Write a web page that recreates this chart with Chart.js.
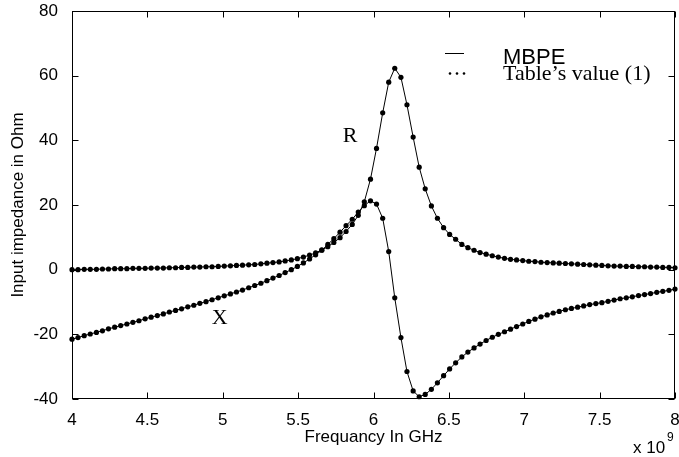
<!DOCTYPE html>
<html>
<head>
<meta charset="utf-8">
<script src="https://cdn.jsdelivr.net/npm/chart.js@4.4.1/dist/chart.umd.min.js"></script>
<style>
  body { margin: 0; background: #fff; }
  canvas { display: block; }
</style>
</head>
<body>
<canvas id="chart" width="679" height="457"></canvas>
<script>
// frequency samples (x 10^9 Hz)
const freqGHz = [
  4.000, 4.040, 4.081, 4.121, 4.162, 4.202, 4.242, 4.283, 4.323, 4.364,
  4.404, 4.444, 4.485, 4.525, 4.566, 4.606, 4.646, 4.687, 4.727, 4.768,
  4.808, 4.848, 4.889, 4.929, 4.970, 5.010, 5.051, 5.091, 5.131, 5.172,
  5.212, 5.253, 5.293, 5.333, 5.374, 5.414, 5.455, 5.495, 5.535, 5.576,
  5.616, 5.657, 5.697, 5.737, 5.778, 5.818, 5.859, 5.899, 5.939, 5.980,
  6.020, 6.061, 6.101, 6.141, 6.182, 6.222, 6.263, 6.303, 6.343, 6.384,
  6.424, 6.465, 6.505, 6.545, 6.586, 6.626, 6.667, 6.707, 6.747, 6.788,
  6.828, 6.869, 6.909, 6.949, 6.990, 7.030, 7.071, 7.111, 7.152, 7.192,
  7.232, 7.273, 7.313, 7.354, 7.394, 7.434, 7.475, 7.515, 7.556, 7.596,
  7.636, 7.677, 7.717, 7.758, 7.798, 7.838, 7.879, 7.919, 7.960, 8.000
];

// R (real part), Ohm
const resistance = [
  0.0, 0.0, 0.1, 0.1, 0.1, 0.2, 0.2, 0.3, 0.3, 0.3,
  0.4, 0.4, 0.4, 0.5, 0.5, 0.5, 0.6, 0.6, 0.7, 0.7,
  0.8, 0.8, 0.9, 0.9, 1.0, 1.1, 1.2, 1.3, 1.4, 1.5,
  1.6, 1.8, 2.0, 2.2, 2.4, 2.7, 3.0, 3.4, 3.9, 4.5,
  5.2, 6.1, 7.1, 8.4, 9.9, 11.8, 14.0, 16.8, 21.0, 28.0,
  37.5, 48.5, 58.0, 62.3, 59.5, 51.0, 41.0, 31.7, 25.0, 19.7,
  15.9, 13.0, 10.9, 9.4, 7.8, 6.8, 6.0, 5.3, 4.8, 4.3,
  3.9, 3.5, 3.2, 3.0, 2.8, 2.6, 2.5, 2.3, 2.2, 2.1,
  2.0, 1.9, 1.8, 1.7, 1.6, 1.5, 1.4, 1.3, 1.2, 1.1,
  1.1, 1.0, 1.0, 0.9, 0.9, 0.8, 0.8, 0.7, 0.7, 0.6
];

// X (imaginary part), Ohm
const reactance = [
  -21.5, -21.0, -20.4, -19.9, -19.4, -18.9, -18.3, -17.8, -17.3, -16.8,
  -16.3, -15.8, -15.2, -14.7, -14.2, -13.7, -13.1, -12.6, -12.1, -11.5,
  -11.0, -10.4, -9.9, -9.3, -8.7, -8.1, -7.5, -6.9, -6.3, -5.6,
  -4.9, -4.2, -3.4, -2.6, -1.8, -0.9, 0.0, 1.0, 2.1, 3.3,
  4.6, 6.0, 7.8, 9.6, 11.6, 13.6, 15.6, 17.8, 19.8, 21.3,
  20.3, 15.9, 5.6, -8.7, -21.0, -31.5, -37.5, -39.3, -38.6, -37.0,
  -35.0, -32.8, -30.7, -28.8, -27.0, -25.5, -24.2, -23.0, -21.9, -20.9,
  -20.0, -19.2, -18.4, -17.6, -16.8, -16.0, -15.3, -14.6, -14.0, -13.4,
  -12.9, -12.4, -12.0, -11.6, -11.2, -10.8, -10.5, -10.2, -9.8, -9.4,
  -9.0, -8.7, -8.4, -8.0, -7.7, -7.4, -7.0, -6.7, -6.4, -6.0
];

const xTicks = [4, 4.5, 5, 5.5, 6, 6.5, 7, 7.5, 8];
const yTicks = [-40, -20, 0, 20, 40, 60, 80];

const sans = 'Liberation Sans, Arial, sans-serif';
const serif = 'Liberation Serif, Times New Roman, serif';

const toPoints = vals => freqGHz.map((f, i) => ({ x: f, y: vals[i] }));

// box, inward ticks, legend and labels (MATLAB look)
const decorations = {
  id: 'decorations',
  afterDraw(chart) {
    const { ctx, chartArea: a, scales: { x, y } } = chart;
    ctx.save();
    ctx.strokeStyle = '#000';
    ctx.lineWidth = 1;
    const L = Math.round(a.left) + 0.5, R = Math.round(a.right) - 0.5;
    const T = Math.round(a.top) + 0.5, B = Math.round(a.bottom) - 0.5;
    ctx.strokeRect(L, T, R - L, B - T);
    ctx.beginPath();
    x.ticks.forEach(t => {
      const px = Math.round(x.getPixelForValue(t.value)) + 0.5;
      ctx.moveTo(px, B); ctx.lineTo(px, B - 6);
      ctx.moveTo(px, T); ctx.lineTo(px, T + 6);
    });
    y.ticks.forEach(t => {
      const py = Math.round(y.getPixelForValue(t.value)) + 0.5;
      ctx.moveTo(L, py); ctx.lineTo(L + 6, py);
      ctx.moveTo(R, py); ctx.lineTo(R - 6, py);
    });
    ctx.stroke();

    // legend
    ctx.beginPath();
    ctx.moveTo(445, 53.5); ctx.lineTo(464, 53.5);
    ctx.stroke();
    ctx.fillStyle = '#000';
    [450, 457, 464].forEach(cx => {
      ctx.beginPath(); ctx.arc(cx, 73.5, 1.3, 0, Math.PI * 2); ctx.fill();
    });
    ctx.textAlign = 'left';
    ctx.textBaseline = 'alphabetic';
    ctx.font = '22px ' + sans;
    ctx.fillText('MBPE', 503, 64);
    ctx.font = '22px ' + serif;
    ctx.fillText('Table\u2019s value (1)', 503, 80);

    // curve labels
    ctx.textAlign = 'center';
    ctx.font = '22px ' + serif;
    ctx.fillText('R', x.getPixelForValue(5.844), y.getPixelForValue(39.5));
    ctx.fillText('X', x.getPixelForValue(4.98), y.getPixelForValue(-16.8));

    // exponent
    ctx.textAlign = 'left';
    ctx.font = '17px ' + sans;
    ctx.fillText('x 10', 633, 453);
    ctx.font = '12px ' + sans;
    ctx.fillText('9', 667, 441);
    ctx.restore();
  }
};

const lineStyle = {
  borderColor: '#000',
  backgroundColor: '#000',
  borderWidth: 1,
  pointRadius: 2.6,
  pointBorderWidth: 0,
  pointBackgroundColor: '#000',
  tension: 0,
  clip: false
};

new Chart(document.getElementById('chart'), {
  type: 'line',
  data: {
    datasets: [
      { label: 'R', data: toPoints(resistance), ...lineStyle },
      { label: 'X', data: toPoints(reactance), ...lineStyle }
    ]
  },
  options: {
    responsive: false,
    animation: false,
    layout: { padding: { left: 0, right: 4, top: 11, bottom: 0 } },
    plugins: { legend: { display: false }, tooltip: { enabled: false } },
    scales: {
      x: {
        type: 'linear',
        min: 4,
        max: 8,
        afterBuildTicks: s => { s.ticks = xTicks.map(v => ({ value: v })); },
        afterFit: s => { s.height = 58; s.paddingLeft = 0; s.paddingRight = 0; },
        grid: { display: false },
        border: { display: false },
        ticks: {
          color: '#000', padding: 3, maxRotation: 0, autoSkip: false,
          font: { family: sans, size: 17 },
          callback: v => String(v)
        },
        title: {
          display: true,
          text: 'Frequancy In GHz',
          color: '#000',
          padding: { top: 0, bottom: 9 },
          font: { family: sans, size: 17 }
        }
      },
      y: {
        type: 'linear',
        min: -40,
        max: 80,
        afterBuildTicks: s => { s.ticks = yTicks.map(v => ({ value: v })); },
        afterFit: s => { s.width = 72; s.paddingTop = 0; s.paddingBottom = 0; },
        grid: { display: false },
        border: { display: false },
        ticks: {
          color: '#000', padding: 6, autoSkip: false,
          font: { family: sans, size: 17 },
          callback: v => String(v)
        },
        title: {
          display: true,
          text: 'Input impedance in Ohm',
          color: '#000',
          padding: { top: 8, bottom: 0 },
          font: { family: sans, size: 17 }
        }
      }
    }
  },
  plugins: [decorations]
});
</script>
</body>
</html>
